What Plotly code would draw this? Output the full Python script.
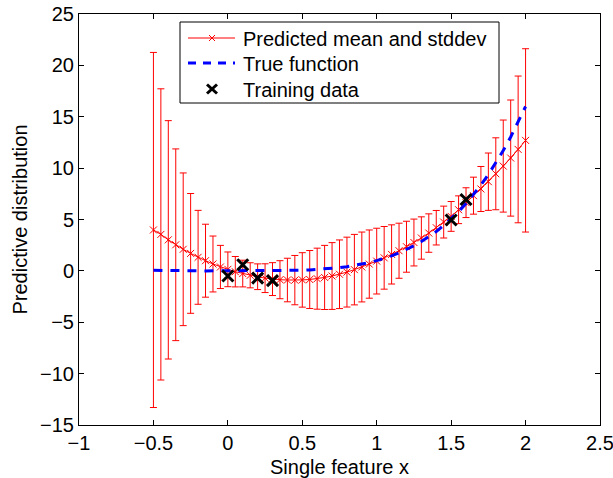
import plotly.graph_objects as go

# Query points for the predictive distribution
x_query = [-0.50, -0.45, -0.40, -0.35, -0.30, -0.25, -0.20, -0.15, -0.10, -0.05,
           0.00, 0.05, 0.10, 0.15, 0.20, 0.25, 0.30, 0.35, 0.40, 0.45,
           0.50, 0.55, 0.60, 0.65, 0.70, 0.75, 0.80, 0.85, 0.90, 0.95,
           1.00, 1.05, 1.10, 1.15, 1.20, 1.25, 1.30, 1.35, 1.40, 1.45,
           1.50, 1.55, 1.60, 1.65, 1.70, 1.75, 1.80, 1.85, 1.90, 1.95, 2.00]

pred_mean = [3.98, 3.55, 3.02, 2.54, 2.10, 1.70, 1.32, 0.99, 0.67, 0.38,
             0.15, -0.08, -0.26, -0.43, -0.57, -0.71, -0.80, -0.86, -0.89, -0.90,
             -0.88, -0.84, -0.76, -0.64, -0.50, -0.33, -0.12, 0.12, 0.38, 0.66,
             0.95, 1.27, 1.60, 1.96, 2.35, 2.76, 3.20, 3.68, 4.20, 4.75,
             5.30, 5.95, 6.64, 7.32, 7.97, 8.68, 9.45, 10.20, 10.98, 11.82, 12.70]

pred_std = [17.28, 14.17, 11.60, 9.33, 7.43, 5.83, 4.57, 3.55, 2.72, 2.10,
            1.69, 1.48, 1.30, 1.22, 1.25, 1.40, 1.60, 1.85, 2.12, 2.40,
            2.65, 2.82, 2.97, 3.12, 3.25, 3.34, 3.40, 3.43, 3.40, 3.32,
            3.20, 3.05, 2.88, 2.68, 2.48, 2.28, 2.06, 1.87, 1.68, 1.55,
            1.45, 1.35, 1.45, 1.80, 2.19, 2.79, 3.50, 4.48, 5.65, 7.14, 8.92]

true_f = [0.06, 0.04, 0.03, 0.02, 0.01, 0.00, 0.00, 0.00, 0.00, 0.00,
          0.00, 0.00, 0.00, 0.00, 0.00, 0.00, 0.01, 0.02, 0.03, 0.04,
          0.06, 0.09, 0.13, 0.18, 0.24, 0.32, 0.41, 0.52, 0.66, 0.81,
          1.00, 1.22, 1.46, 1.75, 2.07, 2.44, 2.86, 3.32, 3.84, 4.42,
          5.06, 5.77, 6.55, 7.41, 8.35, 9.38, 10.50, 11.71, 13.03, 14.46, 16.00]

train_x = [0.0, 0.1, 0.2, 0.3, 1.5, 1.6]
train_y = [-0.5, 0.6, -0.7, -0.95, 4.95, 6.95]

x_ticks = [-1, -0.5, 0, 0.5, 1, 1.5, 2, 2.5]
y_ticks = [-15, -10, -5, 0, 5, 10, 15, 20, 25]

legend_labels = ["Predicted mean and stddev", "True function", "Training data"]

FONT = "Liberation Sans, Arial, Helvetica, sans-serif"

# plot-area geometry in pixels (for the hand-drawn legend box)
W, H = 613, 478
L, R, T, B = 79, 13, 14, 53
PW, PH = W - L - R, H - T - B


def px(xpix):
    return (xpix - L) / PW


def py(ypix):
    return (H - B - ypix) / PH


fig = go.Figure()

fig.add_trace(go.Scatter(
    x=x_query, y=pred_mean, mode="lines+markers",
    name=legend_labels[0],
    line=dict(color="red", width=1),
    marker=dict(symbol="x-thin", size=7, line=dict(color="red", width=1), color="red"),
    error_y=dict(type="data", array=pred_std, visible=True,
                 color="red", thickness=1, width=3.5),
))

fig.add_trace(go.Scatter(
    x=x_query, y=true_f, mode="lines", name=legend_labels[1],
    line=dict(color="#0000ff", width=3, dash="9px,8px"),
))

fig.add_trace(go.Scatter(
    x=train_x, y=train_y, mode="markers", name=legend_labels[2],
    marker=dict(symbol="x-thin", size=11, color="black",
                line=dict(color="black", width=3)),
))

axis_common = dict(
    showgrid=False, zeroline=False, showline=True, linecolor="black",
    linewidth=1, mirror="ticks", ticks="inside", ticklen=5,
    tickcolor="black", tickwidth=1, ticklabeloverflow="allow",
    automargin=False,
    tickfont=dict(family=FONT, size=20, color="black"),
)

# ---- hand-drawn legend (MATLAB style, compact rows) ----
box = dict(x0=180, x1=499, y0=22, y1=103)
rows_y = [38, 63, 89]
sym_x0, sym_x1, sym_c, text_x = 188, 235, 212, 241

shapes = [
    dict(type="rect", xref="paper", yref="paper",
         x0=px(box["x0"]), x1=px(box["x1"]), y0=py(box["y1"]), y1=py(box["y0"]),
         line=dict(color="black", width=1), fillcolor="white", layer="above"),
    # row 1: red line + small x
    dict(type="line", xref="paper", yref="paper",
         x0=px(sym_x0), x1=px(sym_x1), y0=py(rows_y[0]), y1=py(rows_y[0]),
         line=dict(color="red", width=1), layer="above"),
    dict(type="line", xref="paper", yref="paper",
         x0=px(sym_c - 3), x1=px(sym_c + 3), y0=py(rows_y[0] - 3), y1=py(rows_y[0] + 3),
         line=dict(color="red", width=1), layer="above"),
    dict(type="line", xref="paper", yref="paper",
         x0=px(sym_c - 3), x1=px(sym_c + 3), y0=py(rows_y[0] + 3), y1=py(rows_y[0] - 3),
         line=dict(color="red", width=1), layer="above"),
    # row 2: blue dashed
    dict(type="line", xref="paper", yref="paper",
         x0=px(sym_x0), x1=px(sym_x1), y0=py(rows_y[1]), y1=py(rows_y[1]),
         line=dict(color="#0000ff", width=3, dash="8px,7px"), layer="above"),
    # row 3: thick black x
    dict(type="line", xref="paper", yref="paper",
         x0=px(sym_c - 5), x1=px(sym_c + 5), y0=py(rows_y[2] - 4.5), y1=py(rows_y[2] + 4.5),
         line=dict(color="black", width=3), layer="above"),
    dict(type="line", xref="paper", yref="paper",
         x0=px(sym_c - 5), x1=px(sym_c + 5), y0=py(rows_y[2] + 4.5), y1=py(rows_y[2] - 4.5),
         line=dict(color="black", width=3), layer="above"),
]

annotations = [
    dict(xref="paper", yref="paper", x=px(text_x), y=py(yy + 1), text=lab,
         showarrow=False, xanchor="left", yanchor="middle",
         font=dict(family=FONT, size=20, color="black"))
    for lab, yy in zip(legend_labels, rows_y)
]

fig.update_layout(
    width=W, height=H,
    margin=dict(l=L, r=R, t=T, b=B),
    paper_bgcolor="white", plot_bgcolor="white",
    font=dict(family=FONT, size=20, color="black"),
    xaxis=dict(range=[-1, 2.5], tickvals=x_ticks,
               title=dict(text="Single feature x", font=dict(size=20), standoff=7),
               **axis_common),
    yaxis=dict(range=[-15, 25], tickvals=y_ticks,
               title=dict(text="Predictive distribution", font=dict(size=20), standoff=7),
               **axis_common),
    showlegend=False,
    shapes=shapes,
    annotations=annotations,
)

fig.write_html("out.html")
